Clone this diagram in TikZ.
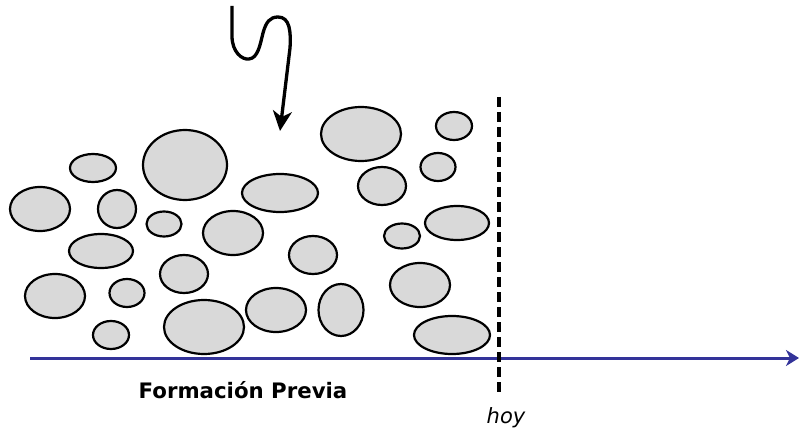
\documentclass[tikz,border=0pt]{standalone}
\usepackage{fontspec}
\setmainfont{DejaVu Sans}
\usetikzlibrary{shapes.geometric,arrows.meta}
\definecolor{graingray}{RGB}{217,217,217}
\definecolor{axisblue}{RGB}{51,51,153}
\tikzset{
  grain/.style={ellipse, draw=black, line width=2.2pt, fill=graingray, inner sep=0pt},
  axis/.style={draw=axisblue, line width=3pt, -{Stealth[length=13pt,width=16pt,inset=4pt]}},
  today/.style={draw=black, line width=3.5pt, dash pattern=on 10pt off 5pt},
  curl/.style={draw=black, line width=3.3pt, -{Stealth[length=20pt,width=19pt,inset=6pt]}},
  lbl/.style={inner sep=0pt, anchor=base}
}
\begin{document}
\begin{tikzpicture}[x=1pt,y=-1pt]
  \useasboundingbox (0,0) rectangle (799,430);
  % grains
  \node[grain, minimum width=60pt, minimum height=44pt] (g1)  at (40,209) {};
  \node[grain, minimum width=46pt, minimum height=28pt] (g2)  at (93,168) {};
  \node[grain, minimum width=84pt, minimum height=70pt] (g3)  at (185,165) {};
  \node[grain, minimum width=38pt, minimum height=38pt] (g4)  at (117,209) {};
  \node[grain, minimum width=35pt, minimum height=25pt] (g5)  at (164,224) {};
  \node[grain, minimum width=60pt, minimum height=44pt] (g6)  at (233,233) {};
  \node[grain, minimum width=64pt, minimum height=34pt] (g7)  at (101,251) {};
  \node[grain, minimum width=48pt, minimum height=38pt] (g8)  at (184,274) {};
  \node[grain, minimum width=60pt, minimum height=44pt] (g9)  at (55,296) {};
  \node[grain, minimum width=35pt, minimum height=28pt] (g10) at (127,293) {};
  \node[grain, minimum width=36pt, minimum height=28pt] (g11) at (111,335) {};
  \node[grain, minimum width=80pt, minimum height=54pt] (g12) at (204,327) {};
  \node[grain, minimum width=80pt, minimum height=54pt] (g13) at (361,134) {};
  \node[grain, minimum width=36pt, minimum height=28pt] (g14) at (454,126) {};
  \node[grain, minimum width=76pt, minimum height=38pt] (g15) at (280,193) {};
  \node[grain, minimum width=48pt, minimum height=38pt] (g16) at (382,186) {};
  \node[grain, minimum width=35pt, minimum height=28pt] (g17) at (438,167) {};
  \node[grain, minimum width=64pt, minimum height=34pt] (g18) at (457,223) {};
  \node[grain, minimum width=36pt, minimum height=25pt] (g19) at (402,236) {};
  \node[grain, minimum width=48pt, minimum height=38pt] (g20) at (313,255) {};
  \node[grain, minimum width=60pt, minimum height=44pt] (g21) at (420,285) {};
  \node[grain, minimum width=60pt, minimum height=44pt] (g22) at (276,310) {};
  \node[grain, minimum width=45pt, minimum height=52pt] (g23) at (341,310) {};
  \node[grain, minimum width=76pt, minimum height=38pt] (g24) at (452,335) {};
  % time axis and today
  \coordinate (t0) at (30,358);
  \coordinate (t1) at (799,358);
  \coordinate (hoytop) at (499,97);
  \coordinate (hoybot) at (499,393);
  \draw[axis] (t0) -- (t1);
  \draw[today] (hoytop) -- (hoybot);
  \node[lbl, font=\fontsize{21.3}{25}\selectfont\bfseries] (prev) at (243,398) {Formación Previa};
  \node[lbl, font=\fontsize{21}{25}\selectfont\itshape] (hoy) at (506,423) {hoy};
  % incoming curl
  \coordinate (c0) at (232,6);
  \coordinate (c1) at (280,131);
  \draw[curl] (c0) -- (232,36) .. controls (232,52) and (242,60) .. (249,59)
    .. controls (258,58) and (260,45) .. (263,33) .. controls (266,22) and (270,17) .. (278,17)
    .. controls (290,17) and (291,32) .. (290,48) -- (c1);
\end{tikzpicture}
\end{document}
